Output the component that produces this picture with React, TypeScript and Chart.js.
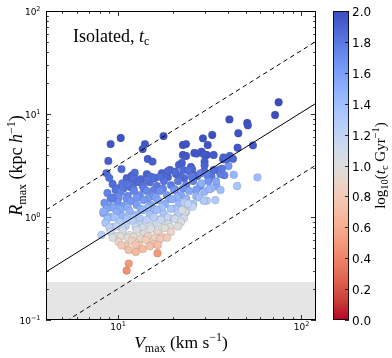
import React, { useEffect, useRef } from "react";
import { Chart, registerables } from "chart.js";

Chart.register(...registerables);

// ---- axis ranges ----
const X_MIN = 4.07;
const X_MAX = 120.7;
const Y_MIN = 0.1;
const Y_MAX = 100;

// ---- reference lines (Vmax endpoints, Rmax values) ----
const lineV = [4.07, 120.7];
const fitR = [0.293, 12.7];
const upperR = [1.17, 50.7];
const lowerR = [0.0735, 3.19];

// resolution limit shading
const shadeTopR = 0.234;

// ---- ticks ----
const xMajor = [10, 100];
const xMinor = [5, 6, 7, 8, 9, 20, 30, 40, 50, 60, 70, 80, 90];
const yMajor = [0.1, 1, 10, 100];
const yMinor = [0.2, 0.3, 0.4, 0.5, 0.6, 0.7, 0.8, 0.9, 2, 3, 4, 5, 6, 7, 8, 9, 20, 30, 40, 50, 60, 70, 80, 90];
const xTickLabels = [
  { v: 10, base: "10", exp: "1" },
  { v: 100, base: "10", exp: "2" },
];
const yTickLabels = [
  { v: 0.1, base: "10", exp: "−1" },
  { v: 1, base: "10", exp: "0" },
  { v: 10, base: "10", exp: "1" },
  { v: 100, base: "10", exp: "2" },
];
const cbTicks = [0, 0.2, 0.4, 0.6, 0.8, 1.0, 1.2, 1.4, 1.6, 1.8, 2.0];
const CB_MIN = 0;
const CB_MAX = 2;

// ---- halos: [Vmax (km/s), Rmax (kpc/h), log10 t_c] ----
const outerHalos: number[][] = [
  [9.16, 5.11, 1.96], [10.4, 5.85, 1.97], [14.1, 5.11, 1.95], [13.7, 4.57, 1.95],
  [17.8, 6.11, 1.98], [14.6, 3.66, 1.93], [15.5, 3.45, 1.92], [8.9, 3.5, 1.92],
  [10.5, 2.92, 1.88], [12.4, 2.69, 1.86], [8.7, 2.67, 1.87], [9.0, 2.4, 1.85],
  [12.3, 2.29, 1.86], [10.6, 2.12, 1.82], [10.7, 1.97, 1.8], [11.3, 2.09, 1.82],
  [12.1, 2.38, 1.86], [15.0, 2.46, 1.85], [15.6, 2.42, 1.85], [14.6, 2.29, 1.84],
  [17.0, 2.46, 1.85], [19.3, 2.86, 1.88], [20.6, 2.75, 1.87], [21.6, 3.2, 1.9],
  [22.7, 5.0, 1.97], [23.6, 5.11, 1.97], [22.7, 4.0, 1.95], [23.6, 3.91, 1.95],
  [26.2, 4.18, 1.95], [27.0, 4.13, 1.95], [22.4, 3.35, 1.92], [25.1, 3.06, 1.9],
  [25.5, 2.9, 1.88], [18.8, 2.79, 1.88], [32.8, 6.25, 1.98], [29.2, 5.8, 1.97],
  [31.0, 5.0, 1.96], [28.7, 4.3, 1.95], [30.6, 4.0, 1.95], [33.4, 4.0, 1.94],
  [29.5, 4.06, 1.95], [29.8, 3.45, 1.92], [29.8, 3.18, 1.9], [37.6, 3.63, 1.9],
  [40.7, 8.86, 1.99], [50.9, 8.2, 1.98], [51.3, 7.76, 1.98], [45.5, 6.5, 1.97],
  [75.5, 13.0, 2.0], [72.2, 9.78, 1.99], [54.7, 4.96, 1.95], [45.1, 4.7, 1.95],
  [40.9, 3.93, 1.9], [42.6, 3.67, 1.88], [40.2, 3.12, 1.65], [37.8, 3.79, 1.9],
  [39.2, 3.63, 1.88], [33.4, 2.86, 1.85], [37.0, 2.94, 1.8], [28.2, 2.65, 1.78],
  [22.8, 2.86, 1.86], [24.4, 2.82, 1.85], [25.4, 2.46, 1.8], [30.6, 2.62, 1.75],
];

const sideHalos: number[][] = [
  [43.0, 2.57, 1.45], [57.9, 2.43, 1.42], [44.8, 2.0, 1.35], [32.4, 1.91, 1.42],
  [31.5, 1.86, 1.45], [28.7, 2.12, 1.5], [34.4, 2.23, 1.55], [30.6, 1.44, 1.3],
  [29.5, 1.44, 1.3], [25.6, 1.26, 1.15], [23.3, 1.13, 1.05], [22.5, 1.17, 1.05],
  [23.1, 1.38, 1.25], [24.2, 1.34, 1.2], [36.4, 1.83, 1.4], [34.1, 1.46, 1.3],
  [8.16, 0.669, 1.25], [8.37, 1.13, 1.5], [9.39, 1.52, 1.78],
  [16.5, 0.445, 0.5], [11.5, 0.353, 0.5], [11.2, 0.302, 0.45],
];

const coreHalos: number[][] = [
  // R ~ 2.5
  [11.21, 2.39, 1.9], [12.24, 2.55, 1.9], [13.38, 2.33, 1.89], [14.43, 2.61, 1.9],
  [15.97, 2.39, 1.88], [17.44, 2.67, 1.9], [18.82, 2.44, 1.88], [20.83, 2.61, 1.89],
  [23.05, 2.39, 1.86], [24.87, 2.73, 1.88], [27.17, 2.5, 1.85], [29.68, 2.79, 1.86],
  [32.44, 2.5, 1.8], [35.44, 2.85, 1.82], [38.2, 2.55, 1.75],
  [11.94, 2.52, 1.9], [14.99, 2.47, 1.9], [18.12, 2.55, 1.88], [21.91, 2.46, 1.87],
  [25.83, 2.58, 1.85], [31.23, 2.44, 1.8], [36.35, 2.62, 1.78],
  // R ~ 2.0
  [9.39, 2.09, 1.85], [10.13, 1.91, 1.83], [10.93, 2.14, 1.85], [11.79, 1.95, 1.83],
  [12.72, 2.18, 1.85], [13.72, 2.0, 1.82], [14.99, 2.18, 1.84], [16.37, 2.0, 1.8],
  [17.89, 2.23, 1.82], [19.55, 2.04, 1.78], [21.36, 2.23, 1.8], [23.64, 2.04, 1.75],
  [25.83, 2.23, 1.74], [28.22, 2.0, 1.68], [31.23, 2.23, 1.65], [34.55, 2.0, 1.55],
  [9.75, 1.84, 1.82], [10.79, 1.9, 1.8], [12.24, 1.85, 1.8], [13.89, 1.89, 1.78],
  [15.77, 1.83, 1.76], [17.66, 1.88, 1.74], [20.57, 1.85, 1.7], [22.76, 1.9, 1.66],
  [26.83, 1.84, 1.6], [32.03, 1.88, 1.52],
  // R ~ 1.6
  [8.8, 1.71, 1.75], [9.63, 1.56, 1.72], [10.39, 1.75, 1.75], [11.35, 1.6, 1.7],
  [12.24, 1.79, 1.74], [13.21, 1.63, 1.7], [14.43, 1.79, 1.72], [15.57, 1.6, 1.66],
  [17.01, 1.79, 1.68], [18.58, 1.63, 1.62], [20.31, 1.83, 1.64], [22.18, 1.63, 1.56],
  [24.55, 1.79, 1.55], [26.83, 1.6, 1.45], [29.68, 1.75, 1.45],
  [9.16, 1.5, 1.72], [10.13, 1.55, 1.7], [11.21, 1.51, 1.68], [12.72, 1.54, 1.65],
  [14.62, 1.5, 1.62], [16.17, 1.55, 1.58], [19.06, 1.51, 1.52], [21.09, 1.54, 1.48],
  [23.64, 1.5, 1.44], [27.86, 1.55, 1.38],
  // R ~ 1.3
  [8.48, 1.37, 1.67], [9.16, 1.25, 1.63], [10.0, 1.4, 1.67], [10.79, 1.28, 1.61],
  [11.79, 1.43, 1.65], [12.72, 1.31, 1.6], [13.89, 1.46, 1.63], [15.18, 1.31, 1.55],
  [16.58, 1.46, 1.57], [18.12, 1.34, 1.5], [19.8, 1.49, 1.5], [21.63, 1.34, 1.43],
  [23.64, 1.49, 1.43], [25.83, 1.34, 1.35],
  [8.69, 1.2, 1.57], [9.51, 1.23, 1.55], [10.39, 1.19, 1.53], [11.35, 1.24, 1.51],
  [13.38, 1.2, 1.47], [14.62, 1.23, 1.45], [15.97, 1.19, 1.41], [17.44, 1.24, 1.38],
  [20.57, 1.21, 1.33], [23.05, 1.23, 1.27],
  // R ~ 1.05
  [8.37, 1.09, 1.53], [9.04, 1.0, 1.48], [9.87, 1.12, 1.52], [10.65, 1.02, 1.46],
  [11.64, 1.14, 1.48], [12.56, 1.05, 1.43], [13.72, 1.17, 1.46], [14.99, 1.05, 1.38],
  [16.37, 1.17, 1.41], [17.89, 1.07, 1.33], [19.55, 1.2, 1.35], [21.36, 1.09, 1.26],
  [23.64, 1.12, 1.18],
  [8.8, 0.96, 1.41], [9.63, 0.99, 1.38], [11.21, 0.96, 1.35], [12.24, 0.99, 1.33],
  [13.21, 0.97, 1.3], [15.77, 0.99, 1.25], [17.22, 0.96, 1.22], [18.82, 0.99, 1.18],
  [20.31, 0.97, 1.15], [23.05, 0.98, 1.1],
  // R ~ 0.85
  [8.58, 0.875, 1.35], [9.39, 0.8, 1.28], [10.26, 0.895, 1.3], [11.07, 0.818, 1.24],
  [12.08, 0.915, 1.26], [13.21, 0.836, 1.2], [14.43, 0.935, 1.22], [15.77, 0.836, 1.14],
  [17.22, 0.935, 1.15], [18.82, 0.855, 1.08], [20.57, 0.956, 1.1], [22.18, 0.895, 1.05],
  [9.04, 0.79, 1.22], [9.87, 0.81, 1.2], [10.65, 0.78, 1.17], [12.56, 0.8, 1.13],
  [13.72, 0.79, 1.1], [14.99, 0.81, 1.07], [17.44, 0.79, 1.03], [19.31, 0.8, 1.0],
  [21.36, 0.81, 0.98],
  // R ~ 0.7
  [9.16, 0.716, 1.15], [9.87, 0.654, 1.05], [10.65, 0.732, 1.08], [11.64, 0.669, 1.0],
  [12.72, 0.748, 1.04], [13.89, 0.684, 0.96], [15.18, 0.765, 1.0], [16.58, 0.7, 0.92],
  [18.12, 0.782, 0.96], [19.55, 0.716, 0.9],
  [9.39, 0.63, 1.0], [10.39, 0.65, 0.97], [11.35, 0.63, 0.94], [12.24, 0.64, 0.92],
  [13.38, 0.62, 0.89], [14.62, 0.65, 0.87], [15.97, 0.63, 0.84], [17.44, 0.645, 0.82],
  [18.58, 0.63, 0.81],
  // R ~ 0.55
  [10.13, 0.573, 0.88], [11.07, 0.524, 0.8], [11.94, 0.585, 0.86], [13.04, 0.535, 0.78],
  [14.25, 0.599, 0.83], [15.57, 0.548, 0.76], [17.01, 0.612, 0.8], [11.49, 0.479, 0.72],
  [13.72, 0.49, 0.7], [12.56, 0.458, 0.68],
  [10.52, 0.53, 0.8], [12.56, 0.54, 0.77], [14.99, 0.52, 0.73], [16.58, 0.535, 0.72],
];

// ---- colormap (coolwarm, reversed so that high = blue) ----
const coolwarmStops: number[][] = [
  [59, 76, 192], [77, 104, 215], [98, 130, 234], [119, 154, 247],
  [141, 176, 254], [163, 194, 255], [184, 208, 249], [204, 217, 238],
  [221, 221, 221], [236, 211, 197], [245, 196, 173], [247, 177, 148],
  [244, 154, 123], [236, 127, 99], [222, 96, 77], [203, 62, 56], [180, 4, 38],
];

function cmap(v: number): string {
  let t = 1 - (v - CB_MIN) / (CB_MAX - CB_MIN);
  t = Math.max(0, Math.min(1, t));
  const n = coolwarmStops.length - 1;
  const f = t * n;
  const i = Math.min(n - 1, Math.floor(f));
  const u = f - i;
  const a = coolwarmStops[i];
  const b = coolwarmStops[i + 1];
  const c = a.map((av, k) => Math.round(av + (b[k] - av) * u));
  return `rgb(${c[0]},${c[1]},${c[2]})`;
}

const SERIF = "'Liberation Serif', 'DejaVu Serif', serif";
const SANS = "'DejaVu Sans', 'Liberation Sans', sans-serif";

type Part = { t: string; f: string; dy?: number };

function richWidth(ctx: CanvasRenderingContext2D, parts: Part[]) {
  let w = 0;
  for (const p of parts) {
    ctx.font = p.f;
    w += ctx.measureText(p.t).width;
  }
  return w;
}

function drawRich(ctx: CanvasRenderingContext2D, parts: Part[], x: number, y: number, align: "left" | "center" | "right") {
  const w = richWidth(ctx, parts);
  let cx = align === "left" ? x : align === "center" ? x - w / 2 : x - w;
  ctx.textAlign = "left";
  ctx.textBaseline = "alphabetic";
  for (const p of parts) {
    ctx.font = p.f;
    ctx.fillText(p.t, cx, y + (p.dy || 0));
    cx += ctx.measureText(p.t).width;
  }
}

const decorPlugin = {
  id: "decor",
  beforeDatasetsDraw(chart: any) {
    const ctx: CanvasRenderingContext2D = chart.ctx;
    const { left, right, bottom } = chart.chartArea;
    const y = chart.scales.y;
    const top = y.getPixelForValue(shadeTopR);
    ctx.save();
    ctx.fillStyle = "rgb(229,229,229)";
    ctx.fillRect(left, top, right - left, bottom - top);
    ctx.restore();
  },
  afterDraw(chart: any) {
    const ctx: CanvasRenderingContext2D = chart.ctx;
    const { left, right, top, bottom } = chart.chartArea;
    const xs = chart.scales.x;
    const ys = chart.scales.y;
    ctx.save();
    ctx.fillStyle = "#000";
    ctx.strokeStyle = "#000";

    ctx.lineWidth = 0.8;
    const tick = (x1: number, y1: number, x2: number, y2: number) => {
      ctx.beginPath();
      ctx.moveTo(x1, y1);
      ctx.lineTo(x2, y2);
      ctx.stroke();
    };
    const MAJ = 5;
    const MIN = 2.8;
    for (const v of xMajor) {
      const px = Math.round(xs.getPixelForValue(v)) + 0.5;
      tick(px, bottom, px, bottom - MAJ);
      tick(px, top, px, top + MAJ);
    }
    for (const v of xMinor) {
      const px = Math.round(xs.getPixelForValue(v)) + 0.5;
      tick(px, bottom, px, bottom - MIN);
      tick(px, top, px, top + MIN);
    }
    for (const v of yMajor) {
      const py = Math.round(ys.getPixelForValue(v)) + 0.5;
      tick(left, py, left + MAJ, py);
      tick(right, py, right - MAJ, py);
    }
    for (const v of yMinor) {
      const py = Math.round(ys.getPixelForValue(v)) + 0.5;
      tick(left, py, left + MIN, py);
      tick(right, py, right - MIN, py);
    }

    ctx.lineWidth = 1;
    ctx.strokeRect(left + 0.5, top + 0.5, right - left - 1, bottom - top - 1);

    const baseF = `9px ${SANS}`;
    const expF = `6.5px ${SANS}`;
    for (const t of xTickLabels) {
      const px = xs.getPixelForValue(t.v);
      drawRich(ctx, [{ t: t.base, f: baseF }, { t: t.exp, f: expF, dy: -4 }], px + 0.5, bottom + 10, "center");
    }
    for (const t of yTickLabels) {
      const py = ys.getPixelForValue(t.v);
      drawRich(ctx, [{ t: t.base, f: baseF }, { t: t.exp, f: expF, dy: -4 }], left - 5.5, py + 3.5, "right");
    }

    drawRich(ctx, [
      { t: "Isolated, ", f: `18px ${SERIF}` },
      { t: "t", f: `italic 18px ${SERIF}` },
      { t: "c", f: `12px ${SERIF}`, dy: 3 },
    ], 73, 42, "left");

    drawRich(ctx, [
      { t: "V", f: `italic 17.5px ${SERIF}` },
      { t: "max", f: `12px ${SERIF}`, dy: 3.5 },
      { t: " (km s", f: `17.5px ${SERIF}` },
      { t: "−1", f: `12px ${SERIF}`, dy: -7 },
      { t: ")", f: `17.5px ${SERIF}` },
    ], (left + right) / 2, 348, "center");

    ctx.save();
    ctx.translate(22, (top + bottom) / 2);
    ctx.rotate(-Math.PI / 2);
    drawRich(ctx, [
      { t: "R", f: `italic 18px ${SERIF}` },
      { t: "max", f: `12px ${SERIF}`, dy: 3.5 },
      { t: " (kpc ", f: `18px ${SERIF}` },
      { t: "h", f: `italic 18px ${SERIF}` },
      { t: "−1", f: `12px ${SERIF}`, dy: -7 },
      { t: ")", f: `18px ${SERIF}` },
    ], 0, 0, "center");
    ctx.restore();

    // colorbar
    const cbL = 333;
    const cbR = 349;
    const cbT = top;
    const cbB = bottom;
    const grad = ctx.createLinearGradient(0, cbB, 0, cbT);
    const n = coolwarmStops.length - 1;
    coolwarmStops.forEach((c, i) => {
      grad.addColorStop(1 - i / n, `rgb(${c[0]},${c[1]},${c[2]})`);
    });
    ctx.fillStyle = grad;
    ctx.fillRect(cbL, cbT, cbR - cbL, cbB - cbT);
    ctx.strokeStyle = "rgba(0,0,0,0.85)";
    ctx.lineWidth = 1;
    ctx.strokeRect(cbL + 0.5, cbT + 0.5, cbR - cbL - 1, cbB - cbT - 1);
    ctx.fillStyle = "#000";
    ctx.strokeStyle = "#000";
    ctx.lineWidth = 0.8;
    for (const v of cbTicks) {
      const py = Math.round(cbB - ((v - CB_MIN) / (CB_MAX - CB_MIN)) * (cbB - cbT)) + 0.5;
      tick(cbR, py, cbR - 4, py);
      ctx.font = `12px ${SANS}`;
      ctx.textAlign = "left";
      ctx.textBaseline = "alphabetic";
      ctx.fillText(v.toFixed(1), cbR + 3, py + 4.4);
    }

    ctx.save();
    ctx.translate(385, (cbT + cbB) / 2);
    ctx.rotate(-Math.PI / 2);
    drawRich(ctx, [
      { t: "log", f: `15px ${SERIF}` },
      { t: "10", f: `10.5px ${SERIF}`, dy: 3 },
      { t: "(", f: `15px ${SERIF}` },
      { t: "t", f: `italic 15px ${SERIF}` },
      { t: "c", f: `10.5px ${SERIF}`, dy: 2.5 },
      { t: " Gyr", f: `15px ${SERIF}` },
      { t: "−1", f: `10.5px ${SERIF}`, dy: -6 },
      { t: ")", f: `15px ${SERIF}` },
    ], 0, 0, "center");
    ctx.restore();

    ctx.restore();
  },
};

export default function App() {
  const ref = useRef<HTMLCanvasElement | null>(null);
  useEffect(() => {
    document.body.style.margin = "0";
    if (!ref.current) return;
    const halos = [...coreHalos, ...sideHalos, ...outerHalos];
    const lineData = (rs: number[]) => lineV.map((v, i) => ({ x: v, y: rs[i] }));
    const chart = new Chart(ref.current, {
      type: "scatter",
      data: {
        datasets: [
          {
            data: lineData(fitR),
            showLine: true,
            borderColor: "#000",
            borderWidth: 1,
            pointRadius: 0,
            order: 0,
          } as any,
          {
            data: lineData(upperR),
            showLine: true,
            borderColor: "#000",
            borderWidth: 1,
            borderDash: [4.5, 3.5],
            pointRadius: 0,
            order: 0,
          } as any,
          {
            data: lineData(lowerR),
            showLine: true,
            borderColor: "#000",
            borderWidth: 1,
            borderDash: [4.5, 3.5],
            pointRadius: 0,
            order: 0,
          } as any,
          {
            data: halos.map((h) => ({ x: h[0], y: h[1] })),
            pointBackgroundColor: halos.map((h) => cmap(h[2])),
            pointBorderColor: "rgba(70,70,70,0.3)",
            pointBorderWidth: 0.5,
            pointRadius: 3.9,
            order: 1,
          } as any,
        ],
      },
      options: {
        animation: false,
        responsive: false,
        devicePixelRatio: 1,
        events: [],
        layout: { padding: { left: 46, top: 11, right: 76, bottom: 38 } },
        plugins: { legend: { display: false }, tooltip: { enabled: false } },
        scales: {
          x: { type: "logarithmic", min: X_MIN, max: X_MAX, display: false },
          y: { type: "logarithmic", min: Y_MIN, max: Y_MAX, display: false },
        },
      },
      plugins: [decorPlugin],
    });
    return () => chart.destroy();
  }, []);
  return (
    <div style={{ position: "fixed", left: 0, top: 0, width: 392, height: 358, background: "#fff" }}>
      <canvas ref={ref} width={392} height={358} style={{ display: "block" }} />
    </div>
  );
}
